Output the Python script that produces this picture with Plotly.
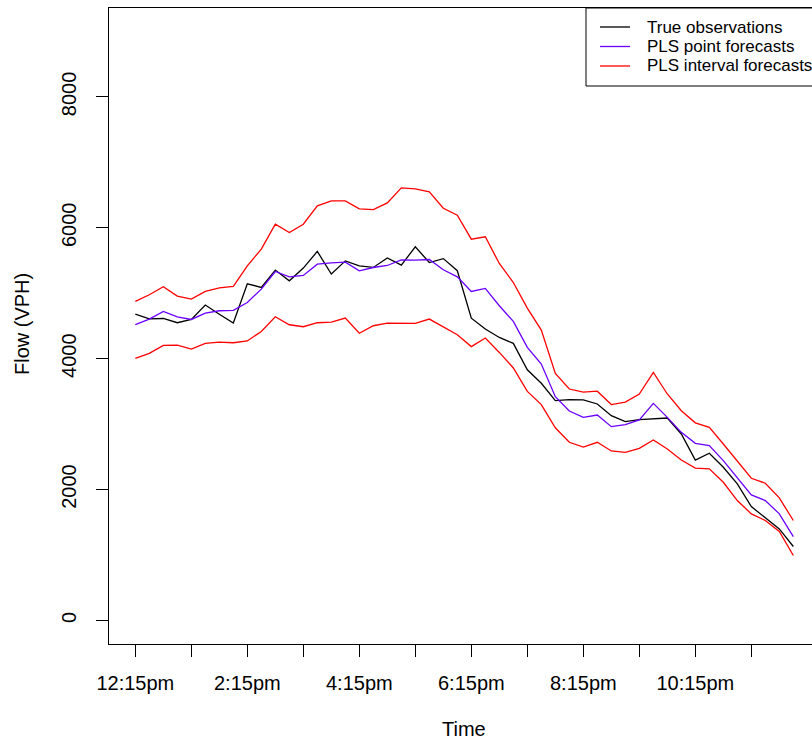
import pandas as pd
import plotly.graph_objects as go

# 15-minute time stamps from 12:15pm to 12:00am
times = [t.strftime("%I:%M%p").lstrip("0").lower()
         for t in pd.date_range("2000-01-01 12:15", periods=48, freq="15min")]

observed = [4680, 4610, 4615, 4550, 4600, 4820, 4680, 4545, 5145, 5090, 5355, 5190,
            5385, 5640, 5295, 5495, 5420, 5395, 5540, 5430, 5710, 5470, 5530, 5345,
            4620, 4455, 4325, 4235, 3830, 3625, 3360, 3375, 3372, 3308, 3130, 3038,
            3069, 3079, 3094, 2850, 2450, 2555, 2341, 2087, 1740, 1568, 1399, 1130]

pls_point = [4520, 4605, 4723, 4641, 4600, 4697, 4733, 4738, 4860, 5064, 5333, 5252,
             5272, 5445, 5466, 5476, 5344, 5394, 5425, 5511, 5506, 5516, 5359, 5252,
             5028, 5074, 4809, 4570, 4173, 3919, 3420, 3200, 3104, 3140, 2962, 2992,
             3064, 3318, 3104, 2875, 2707, 2672, 2443, 2188, 1919, 1832, 1629, 1282]

pls_upper = [4875, 4977, 5099, 4957, 4911, 5028, 5084, 5104, 5420, 5675, 6056, 5929,
             6056, 6336, 6412, 6412, 6290, 6280, 6382, 6611, 6595, 6550, 6300, 6193,
             5827, 5863, 5455, 5165, 4774, 4438, 3776, 3537, 3490, 3504, 3300, 3336,
             3461, 3791, 3461, 3206, 3020, 2952, 2697, 2443, 2173, 2097, 1873, 1527]

pls_lower = [4005, 4081, 4203, 4208, 4148, 4234, 4255, 4244, 4272, 4417, 4641, 4519,
             4489, 4550, 4560, 4621, 4390, 4504, 4545, 4539, 4539, 4606, 4489, 4366,
             4185, 4316, 4096, 3858, 3501, 3298, 2945, 2723, 2650, 2723, 2590, 2570,
             2631, 2758, 2621, 2453, 2328, 2316, 2112, 1832, 1629, 1527, 1359, 992]

y_ticks = [0, 2000, 4000, 6000, 8000]
legend_labels = ["True observations", "PLS point forecasts", "PLS interval forecasts"]
colors = ["#000000", "#6A00FF", "#FF0000"]

W, H = 812, 740
ML, MT, MB = 109, 8, 96
PW, PH = W - ML, H - MT - MB
FAMILY = "Liberation Sans, Arial, sans-serif"
AXIS_FONT = dict(family=FAMILY, size=20, color="black")
LEG_FONT = dict(family=FAMILY, size=17, color="black")

hour_ticks = times[::4]
hour_text = [t if k % 2 == 0 else "" for k, t in enumerate(hour_ticks)]

fig = go.Figure()
series = [(observed, colors[0]), (pls_point, colors[1]),
          (pls_upper, colors[2]), (pls_lower, colors[2])]
for vals, col in series:
    fig.add_trace(go.Scatter(x=times, y=vals, mode="lines",
                             line=dict(color=col, width=1.3), showlegend=False,
                             hoverinfo="skip"))

fig.update_layout(
    width=W, height=H,
    margin=dict(l=ML, r=0, t=MT, b=MB),
    paper_bgcolor="white", plot_bgcolor="white",
    font=AXIS_FONT,
    showlegend=False,
    xaxis=dict(type="category", range=[-1.88, -1.88 + PW / 14.0],
               tickmode="array", tickvals=hour_ticks, ticktext=hour_text,
               ticks="outside", ticklen=12, tickcolor="black", tickwidth=1,
               ticklabelstandoff=9, tickfont=AXIS_FONT,
               showline=True, linecolor="black", linewidth=1, mirror=True,
               showgrid=False, zeroline=False),
    yaxis=dict(range=[-360, 9360], tickmode="array", tickvals=y_ticks,
               ticktext=[str(v) for v in y_ticks], tickangle=-90,
               ticks="outside", ticklen=12, tickcolor="black", tickwidth=1,
               ticklabelstandoff=12, tickfont=AXIS_FONT,
               showline=True, linecolor="black", linewidth=1,
               showgrid=False, zeroline=False),
)


def px_x(p):
    return (p - ML) / PW


def px_y(p):
    return 1 - (p - MT) / PH


# axis titles
fig.add_annotation(text="Time", xref="paper", yref="paper", x=px_x(464), y=px_y(729),
                   showarrow=False, xanchor="center", yanchor="middle",
                   font=AXIS_FONT, borderpad=0)
fig.add_annotation(text="Flow (VPH)", xref="paper", yref="paper", x=px_x(22),
                   y=px_y(324), showarrow=False, textangle=-90,
                   xanchor="center", yanchor="middle", font=AXIS_FONT, borderpad=0)

# legend box
fig.add_shape(type="rect", xref="paper", yref="paper",
              x0=px_x(586), x1=px_x(830), y0=px_y(86), y1=px_y(MT),
              line=dict(color="black", width=1), fillcolor="white", layer="above")
for k, (lab, col) in enumerate(zip(legend_labels, colors)):
    yy = px_y(27 + 19.5 * k)
    fig.add_shape(type="line", xref="paper", yref="paper",
                  x0=px_x(600), x1=px_x(630), y0=yy, y1=yy,
                  line=dict(color=col, width=1.3), layer="above")
    fig.add_annotation(text=lab, xref="paper", yref="paper", x=px_x(645), y=yy,
                       showarrow=False, xanchor="left", yanchor="middle", font=LEG_FONT)

fig.write_html("out.html")
